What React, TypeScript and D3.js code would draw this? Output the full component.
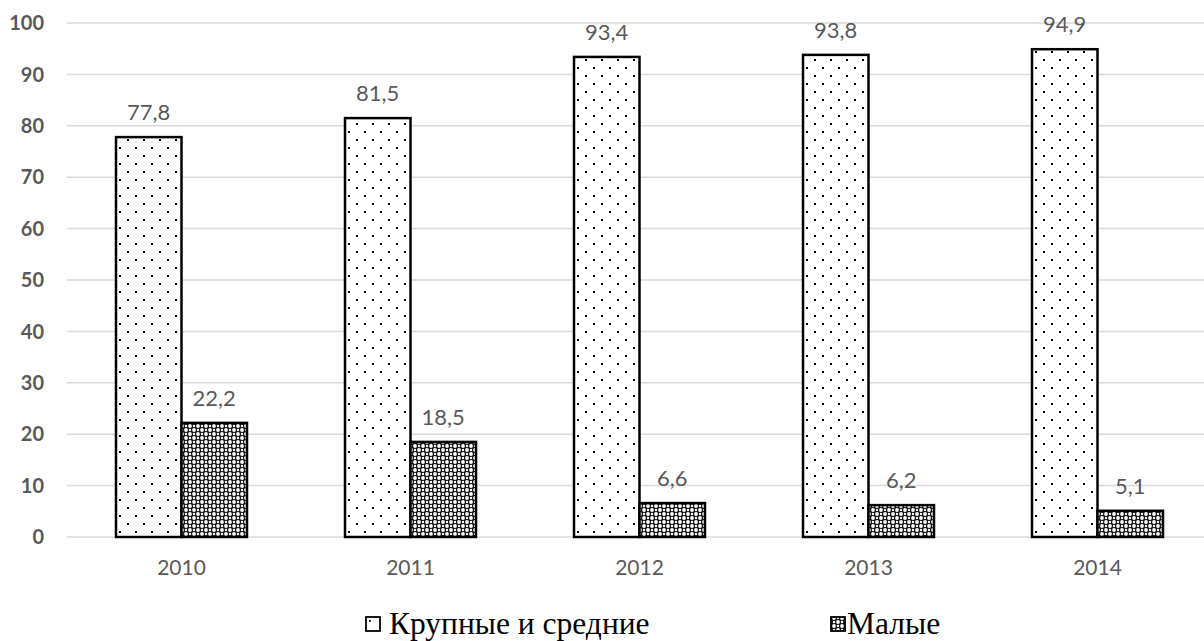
import React from "react";
import * as d3 from "d3";

const years = ["2010", "2011", "2012", "2013", "2014"];
const seriesNames = ["Крупные и средние", "Малые"];
const large = [77.8, 81.5, 93.4, 93.8, 94.9];
const small = [22.2, 18.5, 6.6, 6.2, 5.1];
const yTicks = [0, 10, 20, 30, 40, 50, 60, 70, 80, 90, 100];

const W = 1204;
const H = 641;

export default function App() {
  const x = d3
    .scaleBand<string>()
    .domain(years)
    .range([67, 1212])
    .paddingInner(0.428)
    .paddingOuter(0.214);
  const xs = d3.scaleBand<string>().domain(seriesNames).range([0, x.bandwidth()]);
  const y = d3.scaleLinear().domain([0, 100]).range([537, 23]);
  const fmt = (v: number) => v.toFixed(1).replace(".", ",");
  const series = [large, small];
  const fills = ["url(#dots)", "url(#cross)"];

  return (
    <div style={{ position: "absolute", left: 0, top: 0 }}>
      <svg width={W} height={H} style={{ display: "block" }}>
        <defs>
          <pattern id="dots" patternUnits="userSpaceOnUse" width={16} height={16}>
            <rect width={16} height={16} fill="#fff" />
            <rect x={3} y={3} width={2} height={2} fill="#000" />
            <rect x={11} y={11} width={2} height={2} fill="#000" />
          </pattern>
          <pattern id="cross" patternUnits="userSpaceOnUse" width={8} height={8}>
            <rect width={8} height={8} fill="#111" />
            <circle cx={2} cy={2} r={1.9} fill="#fff" />
            <circle cx={6} cy={6} r={1.9} fill="#fff" />
            <circle cx={2} cy={6} r={1.2} fill="#fff" />
            <circle cx={6} cy={2} r={1.2} fill="#fff" />
          </pattern>
        </defs>
        <rect width={W} height={H} fill="#fff" />
        {yTicks.map((t) => (
          <g key={t}>
            <line x1={67} x2={1212} y1={y(t)} y2={y(t)} stroke="#d9d9d9" strokeWidth={1.5} />
            <text
              x={44}
              y={y(t)}
              dy="0.36em"
              textAnchor="end"
              style={{ fontFamily: "Lato", fontWeight: "bold", fontSize: 20 }}
              fill="#595959"
            >
              {t}
            </text>
          </g>
        ))}
        {years.map((yr, i) => (
          <g key={yr} transform={`translate(${x(yr)},0)`}>
            {series.map((s, j) => {
              const bx = xs(seriesNames[j])!;
              const bw = xs.bandwidth();
              return (
                <g key={j}>
                  <rect
                    x={bx}
                    y={y(s[i])}
                    width={bw}
                    height={y(0) - y(s[i])}
                    fill={fills[j]}
                    stroke="#000"
                    strokeWidth={2.5}
                  />
                  <text
                    x={bx + bw / 2}
                    y={y(s[i]) - 17}
                    textAnchor="middle"
                    style={{ fontFamily: "Lato", fontSize: 22 }}
                    fill="#595959"
                  >
                    {fmt(s[i])}
                  </text>
                </g>
              );
            })}
            <text
              x={x.bandwidth() / 2}
              y={575}
              textAnchor="middle"
              style={{ fontFamily: "Lato", fontSize: 21 }}
              fill="#595959"
            >
              {yr}
            </text>
          </g>
        ))}
        {/* legend */}
        <g>
          <rect x={366} y={617} width={14} height={14} fill="#fff" stroke="#000" strokeWidth={1.8} />
          <rect x={369} y={620} width={1.8} height={1.8} fill="#000" />
          <text x={389} y={634} style={{ fontFamily: "Liberation Serif", fontSize: 31.5 }} fill="#000">
            {seriesNames[0]}
          </text>
          <rect x={831} y={617} width={14} height={14} fill="url(#cross)" stroke="#000" strokeWidth={1.8} />
          <text x={847} y={634} style={{ fontFamily: "Liberation Serif", fontSize: 31.5 }} fill="#000">
            {seriesNames[1]}
          </text>
        </g>
      </svg>
    </div>
  );
}
